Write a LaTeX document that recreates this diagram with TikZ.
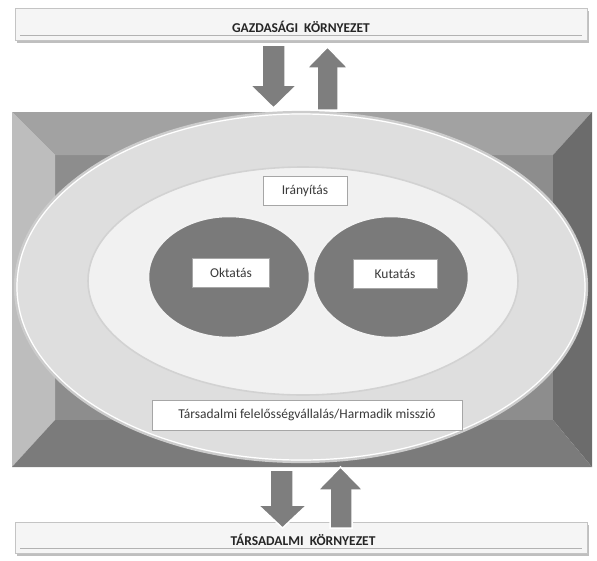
\documentclass[tikz,border=0pt]{standalone}
\usepackage{fontspec}
\setmainfont{Carlito}
\definecolor{bannerfill}{HTML}{F5F5F5}
\definecolor{bannerline}{HTML}{C4C4C4}
\definecolor{arrowgray}{HTML}{7E7E7E}
\definecolor{bevtop}{HTML}{A2A2A2}
\definecolor{bevleft}{HTML}{BDBDBD}
\definecolor{bevright}{HTML}{6C6C6C}
\definecolor{bevbottom}{HTML}{7B7B7B}
\definecolor{frameface}{HTML}{8D8D8D}
\definecolor{outerring}{HTML}{DEDEDE}
\definecolor{innerring}{HTML}{F1F1F1}
\definecolor{coregray}{HTML}{7A7A7A}
\definecolor{textgray}{HTML}{3A3A3A}
\tikzset{
  labelbox/.style={draw=gray!70, fill=white, line width=0.6pt, text=textgray,
    font=\fontsize{13.5}{15}\selectfont, inner sep=0pt, minimum height=29pt},
  bannertext/.style={font=\bfseries\fontsize{13.5}{15}\selectfont, text=black!85},
  blockarrow/.style={fill=arrowgray, draw=white, line width=1.5pt, line join=miter}
}
\begin{document}
\begin{tikzpicture}[x=1pt, y=-1pt]
    \useasboundingbox (0,0) rectangle (597,560);
    % banners
    \fill [black!25] (17,11) rectangle (589,43);
    \draw [bannerline, fill=bannerfill, line width=0.8pt] (15,8) rectangle (587,40);
    \draw [gray!60, line width=0.8pt] (20,35) -- (582,35);
    \node [bannertext] (gazd) at (301,27) {GAZDASÁGI\ \ KÖRNYEZET};
    \fill [black!25] (17,525) rectangle (589,556);
    \draw [bannerline, fill=bannerfill, line width=0.8pt] (15,522) rectangle (587,553);
    \draw [gray!60, line width=0.8pt] (20,548) -- (582,548);
    \node [bannertext] (tars) at (303,540) {TÁRSADALMI\ \ KÖRNYEZET};
    % frame
    \fill [frameface] (55,155) rectangle (553,420);
    \fill [bevtop] (12,112) -- (592,112) -- (553,155) -- (55,155) -- cycle;
    \fill [bevleft] (12,112) -- (55,155) -- (55,420) -- (12,467) -- cycle;
    \fill [bevright] (592,112) -- (592,467) -- (553,420) -- (553,155) -- cycle;
    \fill [bevbottom] (12,467) -- (55,420) -- (553,420) -- (592,467) -- cycle;
    % arrows top
    \draw [blockarrow] (262,45) -- (285,45) -- (285,85) -- (297,85) -- (273.5,108)
        -- (250,85) -- (262,85) -- cycle;
    \draw [blockarrow] (317,110) -- (338,110) -- (338,68) -- (348,68) -- (327.5,47)
        -- (307,68) -- (317,68) -- cycle;
    % ellipses
    \draw [gray!40, fill=outerring, line width=2.2pt] (301,287) ellipse (286 and 175);
    \draw [white, line width=1.2pt] (301,287) ellipse (284 and 173);
    \draw [gray!35, fill=innerring, line width=1.6pt] (303,281) ellipse (215 and 114);
    \draw [white!90!gray, fill=coregray, line width=2.5pt] (229,277) ellipse (81 and 61);
    \draw [white!90!gray, fill=coregray, line width=2.5pt] (391,277) ellipse (78 and 61);
    % arrows bottom
    \draw [blockarrow] (270,470) -- (293,470) -- (293,505) -- (307,505) -- (282.5,528)
        -- (258,505) -- (270,505) -- cycle;
    \draw [blockarrow] (330,528) -- (352,528) -- (352,490) -- (363,490) -- (340.5,467)
        -- (318,490) -- (330,490) -- cycle;
    % labels
    \node [labelbox, minimum width=84pt] (iranyitas) at (305,191) {Irányítás};
    \node [labelbox, minimum width=77pt] (oktatas) at (231,273) {Oktatás};
    \node [labelbox, minimum width=84pt] (kutatas) at (395,274) {Kutatás};
    \node [labelbox, minimum width=310pt, minimum height=30pt] (harmadik) at (307,415)
        {Társadalmi felelősségvállalás/Harmadik misszió};
\end{tikzpicture}
\end{document}
